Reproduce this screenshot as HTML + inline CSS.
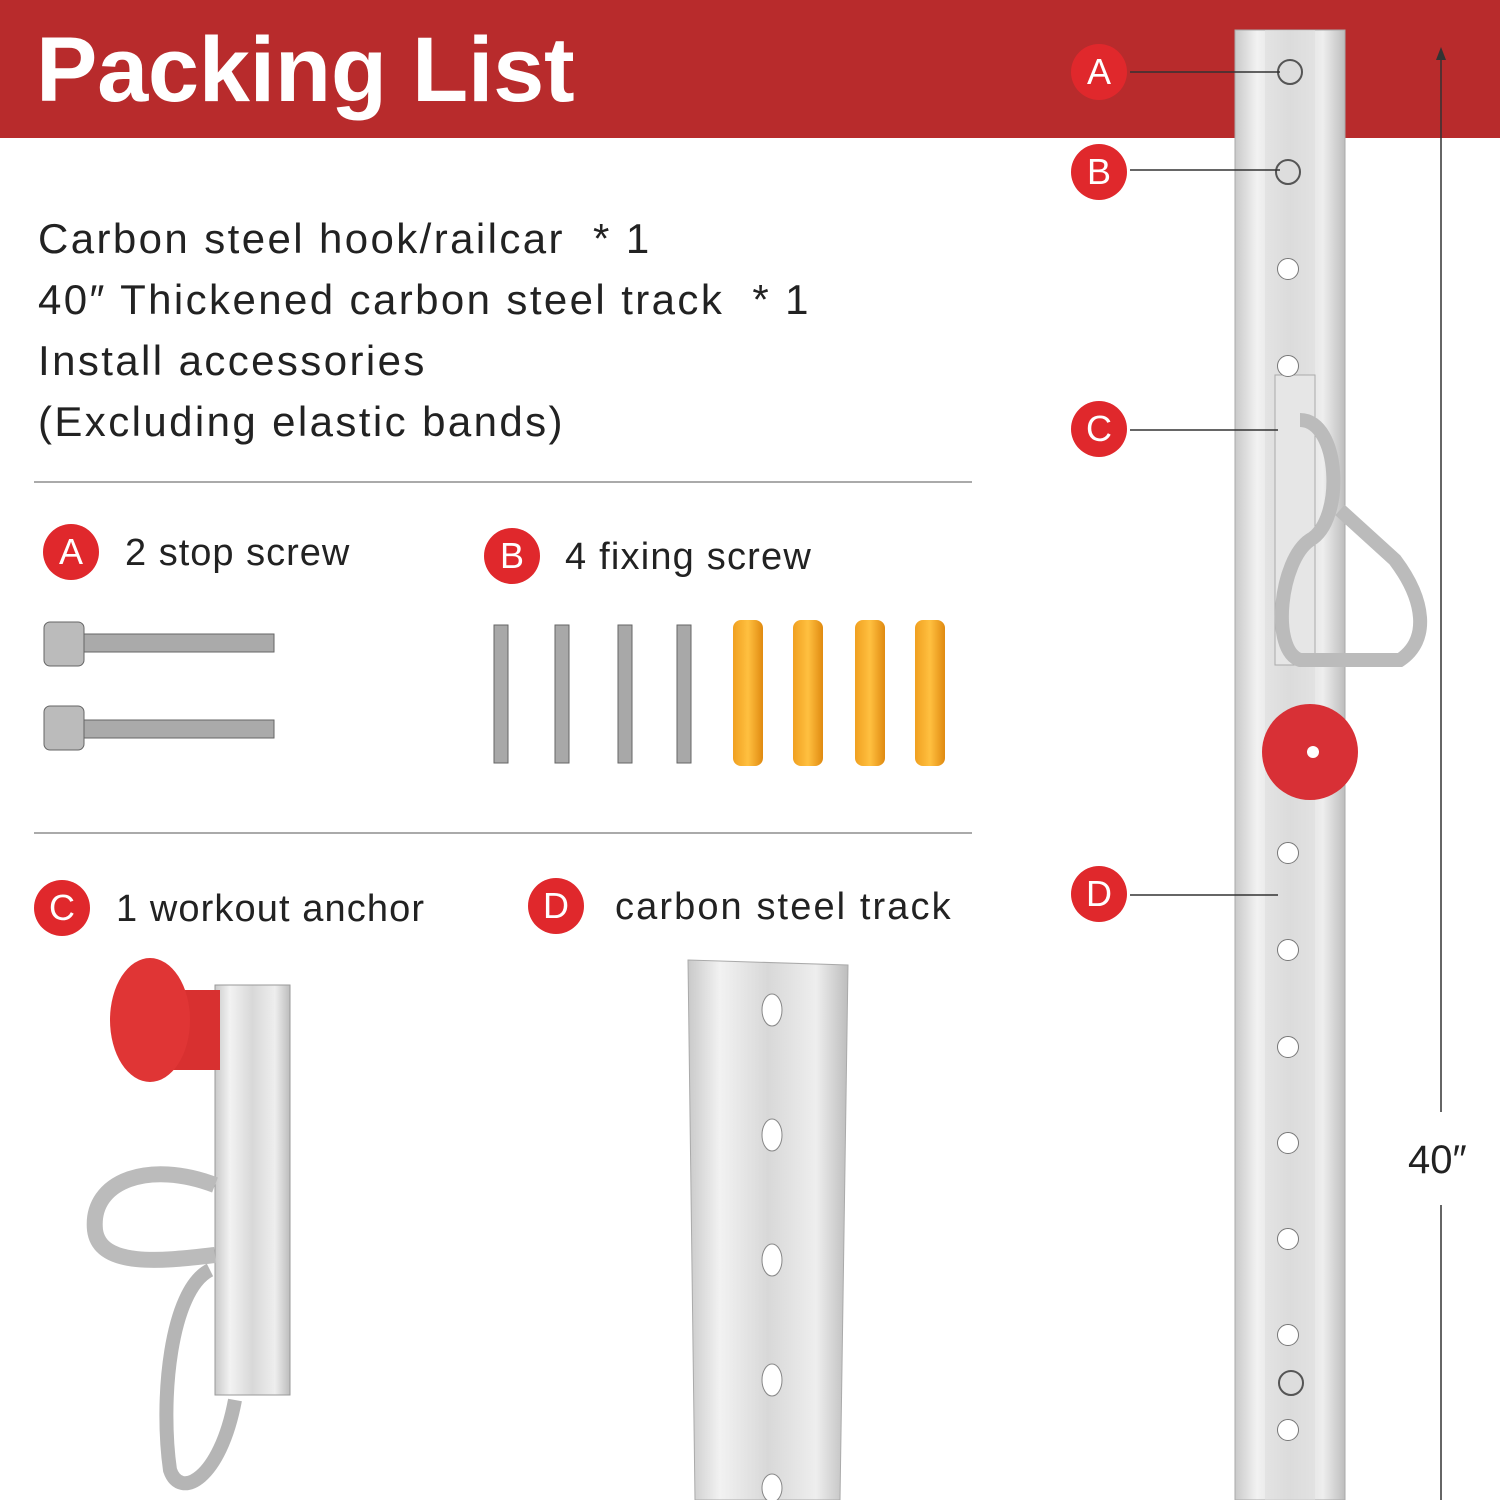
<!DOCTYPE html>
<html><head><meta charset="utf-8"><style>
body{margin:0;width:1500px;height:1500px;background:#fff;position:relative;overflow:hidden;font-family:"Liberation Sans",sans-serif;}
.abs{position:absolute}
.hdr{left:0;top:0;width:1500px;height:138px;background:#b82b2c;}
.title{left:36px;top:18px;color:#fff;font-size:92px;font-weight:bold;letter-spacing:-0.3px}
.txt{left:38px;font-size:42px;color:#222;line-height:61px;top:208px;letter-spacing:2.4px}
.hr{height:2px;background:#aaa;left:34px;width:938px}
.c{width:56px;height:56px;border-radius:50%;background:#e0282c;color:#fff;font-size:36px;text-align:center;line-height:56px;}
.lbl{font-size:38px;color:#222}
.line{height:1.5px;background:#333}
.hole{width:20px;height:20px;border-radius:50%;background:#fff;border:1.5px solid #777;left:1277px}
</style></head><body>
<div class="abs hdr"></div>
<div class="abs title">Packing List</div>
<div class="abs txt">Carbon steel hook/railcar&nbsp;&nbsp;* 1<br>40″ Thickened carbon steel track&nbsp;&nbsp;* 1<br>Install accessories<br>(Excluding elastic bands)</div>
<div class="abs hr" style="top:481px"></div>
<div class="abs hr" style="top:832px"></div>

<div class="abs c" style="left:43px;top:524px">A</div>
<div class="abs lbl" style="left:125px;top:532px;letter-spacing:1px">2 stop screw</div>
<div class="abs c" style="left:484px;top:528px">B</div>
<div class="abs lbl" style="left:565px;top:536px;letter-spacing:1.2px">4 fixing screw</div>
<div class="abs c" style="left:34px;top:880px">C</div>
<div class="abs lbl" style="left:116px;top:888px;letter-spacing:1.1px">1 workout anchor</div>
<div class="abs c" style="left:528px;top:878px">D</div>
<div class="abs lbl" style="left:615px;top:886px;letter-spacing:2.1px">carbon steel track</div>

<svg class="abs" style="left:0;top:0" width="1500" height="1500">
<defs>
<linearGradient id="sv" x1="0" x2="1"><stop offset="0" stop-color="#c9c9c9"/><stop offset=".2" stop-color="#f2f2f2"/><stop offset=".5" stop-color="#d8d8d8"/><stop offset=".8" stop-color="#eeeeee"/><stop offset="1" stop-color="#bdbdbd"/></linearGradient>
<linearGradient id="ye" x1="0" x2="1"><stop offset="0" stop-color="#f0a020"/><stop offset=".5" stop-color="#ffc040"/><stop offset="1" stop-color="#e08a10"/></linearGradient>
</defs>
<g fill="#999" stroke="#666">
<rect x="44" y="622" width="40" height="44" rx="6" fill="#bbb"/><rect x="84" y="634" width="190" height="18" fill="#aaa"/>
<rect x="44" y="706" width="40" height="44" rx="6" fill="#bbb"/><rect x="84" y="720" width="190" height="18" fill="#aaa"/>
</g>
<g fill="#a8a8a8" stroke="#666">
<rect x="494" y="625" width="14" height="138"/><rect x="555" y="625" width="14" height="138"/><rect x="618" y="625" width="14" height="138"/><rect x="677" y="625" width="14" height="138"/>
</g>
<g fill="url(#ye)">
<rect x="733" y="620" width="30" height="146" rx="8"/><rect x="793" y="620" width="30" height="146" rx="8"/><rect x="855" y="620" width="30" height="146" rx="8"/><rect x="915" y="620" width="30" height="146" rx="8"/>
</g>
<rect x="215" y="985" width="75" height="410" fill="url(#sv)" stroke="#999"/>
<path d="M215 1185 C150 1160 90 1180 95 1230 C100 1270 170 1260 215 1255" fill="none" stroke="#bbb" stroke-width="16"/>
<path d="M210 1270 C170 1290 160 1400 170 1470 C180 1500 220 1480 235 1400" fill="none" stroke="#b5b5b5" stroke-width="14"/>
<rect x="150" y="990" width="70" height="80" fill="#d83030"/>
<ellipse cx="150" cy="1020" rx="40" ry="62" fill="#e03535"/>
<path d="M688 960 L848 965 L840 1500 L695 1500 Z" fill="url(#sv)" stroke="#aaa"/>
<g fill="#fff" stroke="#888"><ellipse cx="772" cy="1010" rx="10" ry="16"/><ellipse cx="772" cy="1135" rx="10" ry="16"/><ellipse cx="772" cy="1260" rx="10" ry="16"/><ellipse cx="772" cy="1380" rx="10" ry="16"/><ellipse cx="772" cy="1488" rx="10" ry="14"/></g>
<rect x="1235" y="30" width="110" height="1470" fill="url(#sv)" stroke="#aaa"/>
<rect x="1265" y="30" width="50" height="1470" fill="#dedede" opacity=".6"/>
<g fill="#ddd" stroke="#555" stroke-width="2"><circle cx="1290" cy="72" r="12"/><circle cx="1288" cy="172" r="12"/><circle cx="1291" cy="1383" r="12"/></g>
<rect x="1275" y="375" width="40" height="290" fill="#e6e6e6" stroke="#aaa"/>
<path d="M1300 420 C1340 420 1345 520 1310 540 C1280 560 1270 650 1300 660 L1400 660 C1430 640 1425 600 1395 560 L1340 510" fill="none" stroke="#bbb" stroke-width="14"/>
<circle cx="1310" cy="752" r="48" fill="#d83036"/><circle cx="1313" cy="752" r="6" fill="#fff"/>
<g stroke="#333" stroke-width="1.5"><line x1="1130" y1="72" x2="1280" y2="72"/><line x1="1130" y1="170" x2="1280" y2="170"/><line x1="1130" y1="430" x2="1278" y2="430"/><line x1="1130" y1="895" x2="1278" y2="895"/>
<line x1="1441" y1="50" x2="1441" y2="1112"/><line x1="1441" y1="1205" x2="1441" y2="1500"/></g>
<path d="M1436 60 L1441 47 L1446 60 Z" fill="#333"/>
</svg>
<div class="abs hole" style="top:258px"></div>
<div class="abs hole" style="top:355px"></div>
<div class="abs hole" style="top:842px"></div>
<div class="abs hole" style="top:939px"></div>
<div class="abs hole" style="top:1036px"></div>
<div class="abs hole" style="top:1132px"></div>
<div class="abs hole" style="top:1228px"></div>
<div class="abs hole" style="top:1324px"></div>
<div class="abs hole" style="top:1419px"></div>
<div class="abs c" style="left:1071px;top:44px">A</div>
<div class="abs c" style="left:1071px;top:144px">B</div>
<div class="abs c" style="left:1071px;top:401px">C</div>
<div class="abs c" style="left:1071px;top:866px">D</div>
<div class="abs" style="left:1408px;top:1138px;font-size:40px;color:#222">40″</div>
</body></html>
